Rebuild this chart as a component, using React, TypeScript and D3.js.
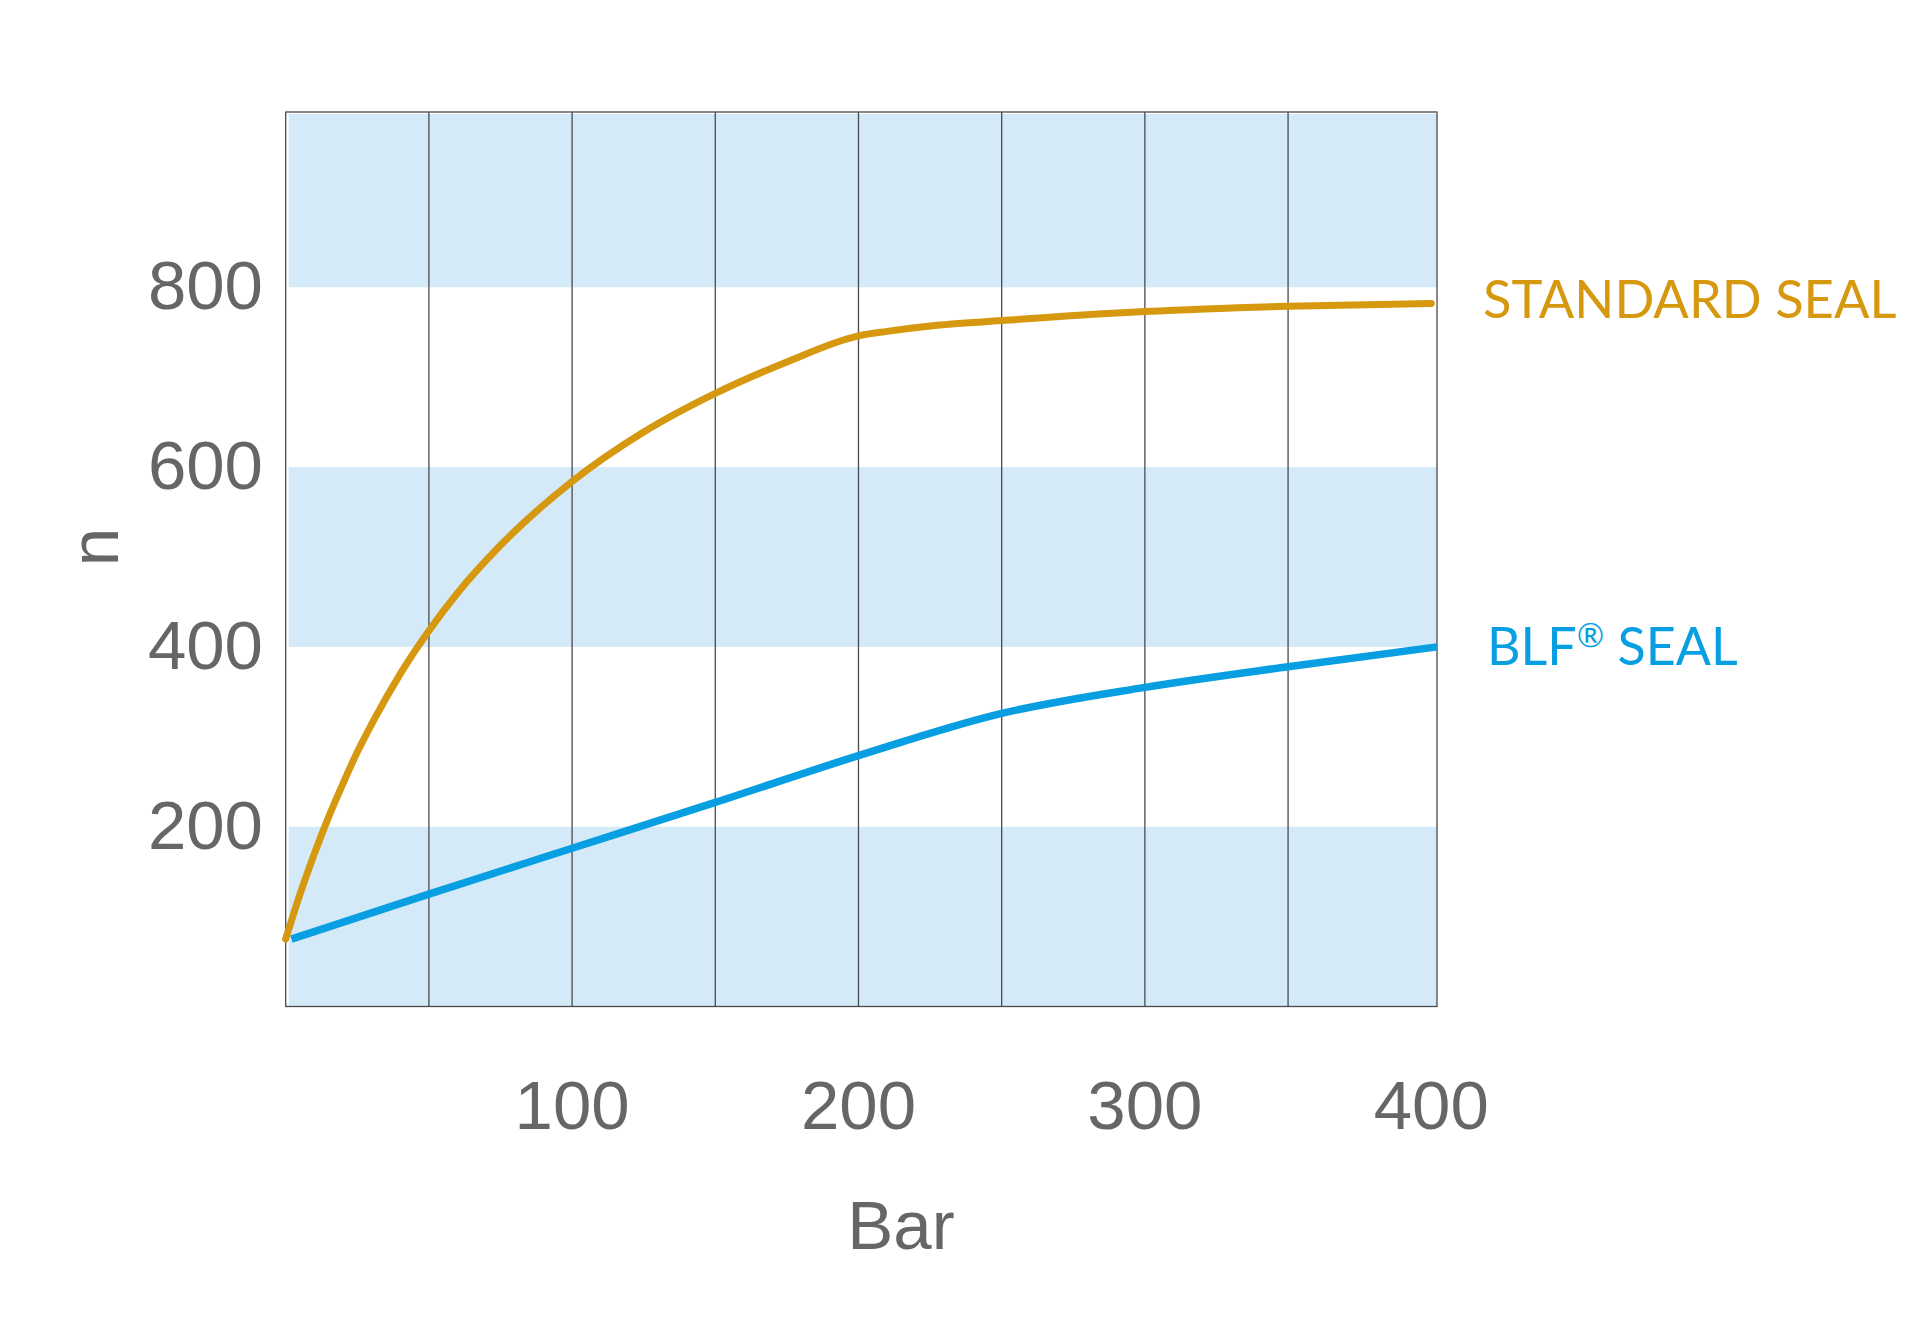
import React from "react";
import * as d3 from "d3";

// pressure (Bar) vs n
const standardBar = [0, 5, 10, 15, 20, 25, 30, 40, 50, 60, 75, 100, 125, 150, 175, 200, 210, 225, 250, 300, 350, 400];
const standardN = [75, 125, 170, 211, 248, 283, 314, 370, 418, 460, 513, 584, 639, 682, 717, 746, 751, 757, 763, 773, 779, 782];

const blfBar = [2, 50, 100, 150, 200, 250, 300, 350, 402];
const blfN = [75, 125, 176, 227, 279, 326, 355, 378, 400];

const xTicks = [100, 200, 300, 400];
const yTicks = [200, 400, 600, 800];
const gridBars = [50, 100, 150, 200, 250, 300, 350];
const bands: [number, number][] = [
  [0, 200],
  [400, 600],
  [800, 995],
];

const ORANGE = "#d6980e";
const BLUE = "#079fe1";
const BAND = "#d4eaf9";
const GRID = "#4a4a4a";
const TEXT = "#666666";

const App: React.FC = () => {
  const width = 1920;
  const height = 1332;

  const x = d3.scaleLinear().domain([0, 402]).range([285.7, 1437]);
  const y = d3.scaleLinear().domain([0, 995]).range([1006.5, 112]);

  const line = d3
    .line<[number, number]>()
    .x((d) => x(d[0]))
    .y((d) => y(d[1]))
    .curve(d3.curveMonotoneX);

  const standardPts = standardBar.map((b, i) => [b, standardN[i]] as [number, number]);
  const blfPts = blfBar.map((b, i) => [b, blfN[i]] as [number, number]);

  const tickFont = "'Liberation Sans', Arial, sans-serif";
  const labelFont = "Lato, sans-serif";

  return (
    <svg
      width={width}
      height={height}
      style={{ position: "absolute", left: 0, top: 0, background: "#fff" }}
    >
      {/* shaded bands */}
      {bands.map(([a, b], i) => (
        <rect
          key={i}
          x={x(0) + 3}
          y={y(b) + (b >= 995 ? 2 : 0)}
          width={x(402) - x(0) - 3}
          height={y(a) - y(b) - (b >= 995 ? 2 : 0)}
          fill={BAND}
        />
      ))}

      {/* vertical grid */}
      {gridBars.map((g) => (
        <line
          key={g}
          x1={x(g)}
          x2={x(g)}
          y1={y(995)}
          y2={y(0)}
          stroke={GRID}
          strokeWidth={1.3}
        />
      ))}

      {/* frame */}
      <rect
        x={x(0)}
        y={y(995)}
        width={x(402) - x(0)}
        height={y(0) - y(995)}
        fill="none"
        stroke={GRID}
        strokeWidth={1.3}
      />

      {/* curves */}
      <path
        d={line(blfPts) ?? ""}
        fill="none"
        stroke={BLUE}
        strokeWidth={7.5}
        strokeLinecap="butt"
      />
      <path
        d={line(standardPts) ?? ""}
        fill="none"
        stroke={ORANGE}
        strokeWidth={7}
        strokeLinecap="round"
      />

      {/* y tick labels */}
      {yTicks.map((t) => (
        <text
          key={t}
          x={263}
          y={y(t) + 22}
          textAnchor="end"
          fontFamily={tickFont}
          fontSize={69}
          fill={TEXT}
        >
          {t}
        </text>
      ))}

      {/* x tick labels */}
      {xTicks.map((t) => (
        <text
          key={t}
          x={x(t)}
          y={1129}
          textAnchor="middle"
          fontFamily={tickFont}
          fontSize={69}
          fill={TEXT}
        >
          {t}
        </text>
      ))}

      {/* axis titles */}
      <text
        x={901}
        y={1249}
        textAnchor="middle"
        fontFamily={tickFont}
        fontSize={69}
        fill={TEXT}
      >
        Bar
      </text>
      <text
        transform="translate(118, 547) rotate(-90)"
        textAnchor="middle"
        fontFamily={tickFont}
        fontSize={69}
        fill={TEXT}
      >
        n
      </text>

      {/* series labels */}
      <text
        x={1483}
        y={y(standardN[standardN.length - 1]) + 15}
        fontFamily={labelFont}
        fontSize={52.5}
        fill={ORANGE}
      >
        STANDARD SEAL
      </text>
      <text
        x={1487}
        y={y(blfN[blfN.length - 1]) + 18}
        fontFamily={labelFont}
        fontSize={52}
        fill={BLUE}
      >
        BLF
        <tspan fontSize={33} dy={-18}>
          ®
        </tspan>
        <tspan dy={18}> SEAL</tspan>
      </text>
    </svg>
  );
};

export default App;
